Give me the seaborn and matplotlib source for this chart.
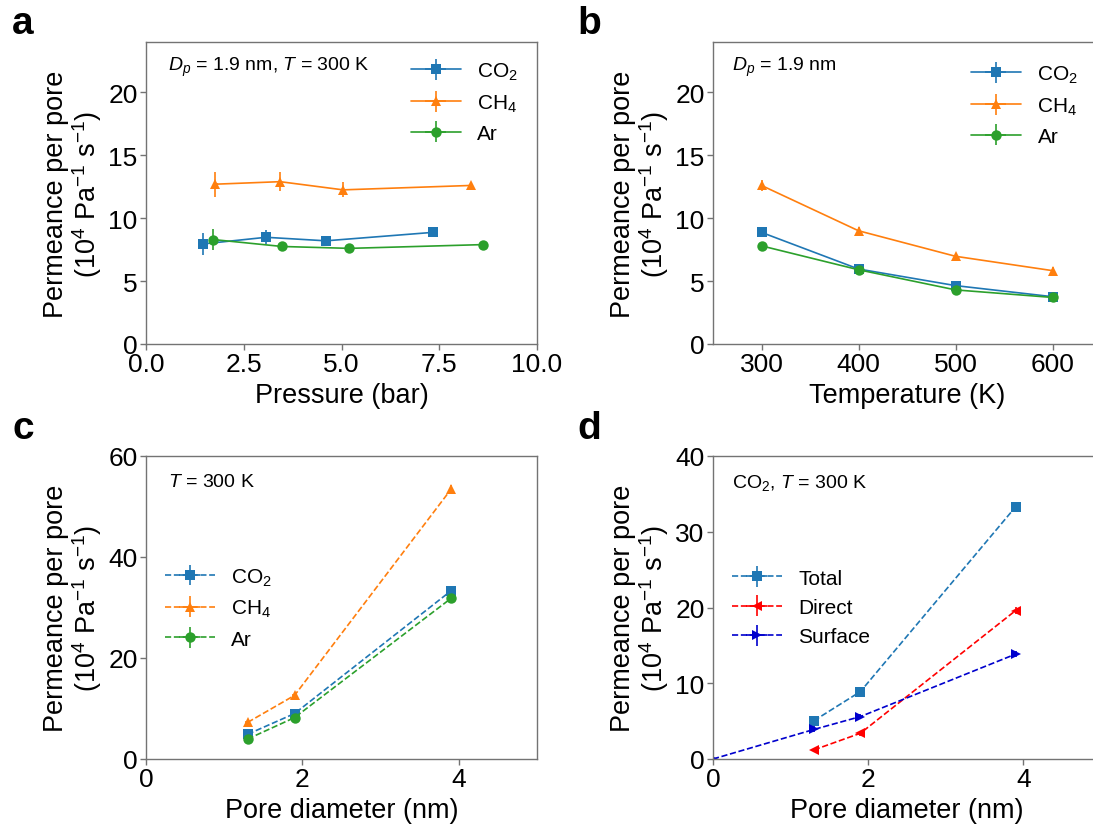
import numpy as np
import pandas as pd
import seaborn as sns
import matplotlib.pyplot as plt
from matplotlib.lines import Line2D

sns.set_theme(style="ticks")
plt.rcParams['font.family'] = ['Liberation Sans', 'DejaVu Sans']
plt.rcParams['mathtext.fontset'] = 'custom'
plt.rcParams['mathtext.rm'] = 'Liberation Sans'
plt.rcParams['mathtext.it'] = 'Liberation Sans:italic'
plt.rcParams['axes.edgecolor'] = '0.45'
plt.rcParams['axes.linewidth'] = 1.0
plt.rcParams['text.color'] = 'black'
plt.rcParams['axes.labelcolor'] = 'black'
plt.rcParams['xtick.labelcolor'] = 'black'
plt.rcParams['ytick.labelcolor'] = 'black'

# panel a: pressure dependence (Dp = 1.9 nm, T = 300 K)
p_co2 = [1.45, 3.07, 4.6, 7.33]
k_co2_p = [7.95, 8.48, 8.2, 8.87]
e_co2_p = [0.85, 0.55, 0.4, 0.3]
p_ch4 = [1.77, 3.43, 5.04, 8.31]
k_ch4_p = [12.7, 12.9, 12.25, 12.6]
e_ch4_p = [1.0, 0.75, 0.6, 0.3]
p_ar = [1.72, 3.48, 5.2, 8.63]
k_ar_p = [8.3, 7.75, 7.6, 7.9]
e_ar_p = [0.85, 0.35, 0.3, 0.2]
xe_p = [0.06, 0.06, 0.06, 0.06]

# panel b: temperature dependence
temps = [300, 400, 500, 600]
k_co2_t = [8.87, 5.96, 4.64, 3.76]
k_ch4_t = [12.6, 9.0, 6.97, 5.83]
k_ar_t = [7.8, 5.9, 4.3, 3.7]
e_co2_t = [0.3, 0.25, 0.2, 0.2]
e_ch4_t = [0.45, 0.3, 0.25, 0.25]
e_ar_t = [0.3, 0.25, 0.2, 0.2]
xe_t = [2, 2, 2, 2]

# panel c: pore diameter dependence
dp = [1.3, 1.9, 3.9]
k_co2_d = [4.9, 9.0, 33.3]
k_ch4_d = [7.25, 12.6, 53.4]
k_ar_d = [3.96, 8.2, 31.8]
e_co2_d = [0.6, 0.5, 0.8]
e_ch4_d = [0.7, 0.6, 0.8]
e_ar_d = [0.5, 0.5, 0.7]
xe_d = [0.03, 0.03, 0.03]

# panel d: CO2 contributions
k_total = [5.05, 8.9, 33.3]
k_direct = [1.2, 3.4, 19.6]
dp_surf = [0.0, 1.3, 1.9, 3.9]
k_surface = [0.0, 3.9, 5.6, 13.85]
e_total = [0.5, 0.5, 0.6]
e_direct = [0.3, 0.3, 0.5]
e_surface = [0.0, 0.4, 0.3, 0.4]

ylab = "Permeance per pore\n(10$^4$ Pa$^{-1}$ s$^{-1}$)"
W, H = 1093, 829
fig = plt.figure(figsize=(W / 100, H / 100), dpi=100)


def make_ax(x0, y0, x1, y1):
    return fig.add_axes([x0 / W, 1 - y1 / H, (x1 - x0) / W, (y1 - y0) / H])


ax_a = make_ax(146, 43, 537, 345)
ax_b = make_ax(713, 43, 1101, 345)
ax_c = make_ax(146, 457, 537, 760)
ax_d = make_ax(713, 457, 1101, 760)


def draw(ax, x, y, xerr, yerr, color, marker, ls, label):
    df = pd.DataFrame({'x': x, 'y': y})
    sns.lineplot(data=df, x='x', y='y', ax=ax, color=color, marker=marker,
                 markersize=7.5, markeredgewidth=0, linestyle=ls, linewidth=1.2,
                 sort=False, estimator=None, legend=False)
    eb = ax.errorbar(x, y, xerr=xerr, yerr=yerr, fmt='none', ecolor=color,
                     elinewidth=1.2, capsize=0)
    proxy = Line2D([], [], color=color, marker=marker, markersize=7.5,
                   markeredgewidth=0, linestyle=ls, linewidth=1.2)
    return (proxy, eb), label


c_co2, c_ch4, c_ar = sns.color_palette('tab10')[:3]

# a
hs = [draw(ax_a, p_co2, k_co2_p, xe_p, e_co2_p, c_co2, 's', '-', 'CO$_2$'),
      draw(ax_a, p_ch4, k_ch4_p, xe_p, e_ch4_p, c_ch4, '^', '-', 'CH$_4$'),
      draw(ax_a, p_ar, k_ar_p, xe_p, e_ar_p, c_ar, 'o', '-', 'Ar')]
ax_a.legend([h[0] for h in hs], [h[1] for h in hs], loc='upper right',
            frameon=False, fontsize=15, handlelength=2.4, labelspacing=0.5,
            bbox_to_anchor=(1.0, 1.0))
ax_a.set_xlim(0, 10)
ax_a.set_xticks([0, 2.5, 5, 7.5, 10])
ax_a.set_xticklabels(['0.0', '2.5', '5.0', '7.5', '10.0'])
ax_a.set_xlabel('Pressure (bar)')
ax_a.text(0.055, 0.92, '$D_p$ = 1.9 nm, $T$ = 300 K', transform=ax_a.transAxes,
          fontsize=14, va='center')

# b
hs = [draw(ax_b, temps, k_co2_t, xe_t, e_co2_t, c_co2, 's', '-', 'CO$_2$'),
      draw(ax_b, temps, k_ch4_t, xe_t, e_ch4_t, c_ch4, '^', '-', 'CH$_4$'),
      draw(ax_b, temps, k_ar_t, xe_t, e_ar_t, c_ar, 'o', '-', 'Ar')]
ax_b.legend([h[0] for h in hs], [h[1] for h in hs], loc='upper right',
            frameon=False, fontsize=15, handlelength=2.4, labelspacing=0.5,
            bbox_to_anchor=(0.99, 0.99))
ax_b.set_xlim(250, 650)
ax_b.set_xticks(temps)
ax_b.set_xlabel('Temperature (K)')
ax_b.text(0.05, 0.92, '$D_p$ = 1.9 nm', transform=ax_b.transAxes,
          fontsize=14, va='center')

for ax in (ax_a, ax_b):
    ax.set_ylim(0, 24)
    ax.set_yticks([0, 5, 10, 15, 20])

# c
hs = [draw(ax_c, dp, k_co2_d, xe_d, e_co2_d, c_co2, 's', '--', 'CO$_2$'),
      draw(ax_c, dp, k_ch4_d, xe_d, e_ch4_d, c_ch4, '^', '--', 'CH$_4$'),
      draw(ax_c, dp, k_ar_d, xe_d, e_ar_d, c_ar, 'o', '--', 'Ar')]
ax_c.legend([h[0] for h in hs], [h[1] for h in hs], loc='center left',
            frameon=False, fontsize=15, handlelength=2.4, labelspacing=0.5,
            bbox_to_anchor=(0.0, 0.5))
ax_c.set_ylim(0, 60)
ax_c.set_yticks([0, 20, 40, 60])
ax_c.text(0.055, 0.915, '$T$ = 300 K', transform=ax_c.transAxes,
          fontsize=14, va='center')

# d
hs = [draw(ax_d, dp, k_total, xe_d, e_total, c_co2, 's', '--', 'Total'),
      draw(ax_d, dp, k_direct, xe_d, e_direct, 'red', '<', '--', 'Direct'),
      draw(ax_d, dp_surf, k_surface, [0.0] + xe_d, e_surface, 'mediumblue', '>', '--', 'Surface')]
ax_d.legend([h[0] for h in hs], [h[1] for h in hs], loc='center left',
            frameon=False, fontsize=15, handlelength=2.4, labelspacing=0.5,
            bbox_to_anchor=(0.0, 0.5))
ax_d.set_ylim(0, 40)
ax_d.set_yticks([0, 10, 20, 30, 40])
ax_d.text(0.05, 0.915, 'CO$_2$, $T$ = 300 K', transform=ax_d.transAxes,
          fontsize=14, va='center')

for ax in (ax_c, ax_d):
    ax.set_xlim(0, 5)
    ax.set_xticks([0, 2, 4])
    ax.set_xlabel('Pore diameter (nm)')

for ax in (ax_a, ax_b, ax_c, ax_d):
    ax.set_ylabel(ylab, fontsize=19.5, linespacing=1.05, labelpad=3)
    ax.xaxis.label.set_size(19.5)
    ax.tick_params(labelsize=19, length=4, width=1, color='0.45', pad=2)
    for s in ax.spines.values():
        s.set_visible(True)

for lab, x, y in [('a', 12, 6), ('b', 577, 6), ('c', 12, 411), ('d', 577, 411)]:
    fig.text(x / W, 1 - y / H, lab, fontsize=28, fontweight='bold', va='top')

fig.savefig('out.png', dpi=100)
